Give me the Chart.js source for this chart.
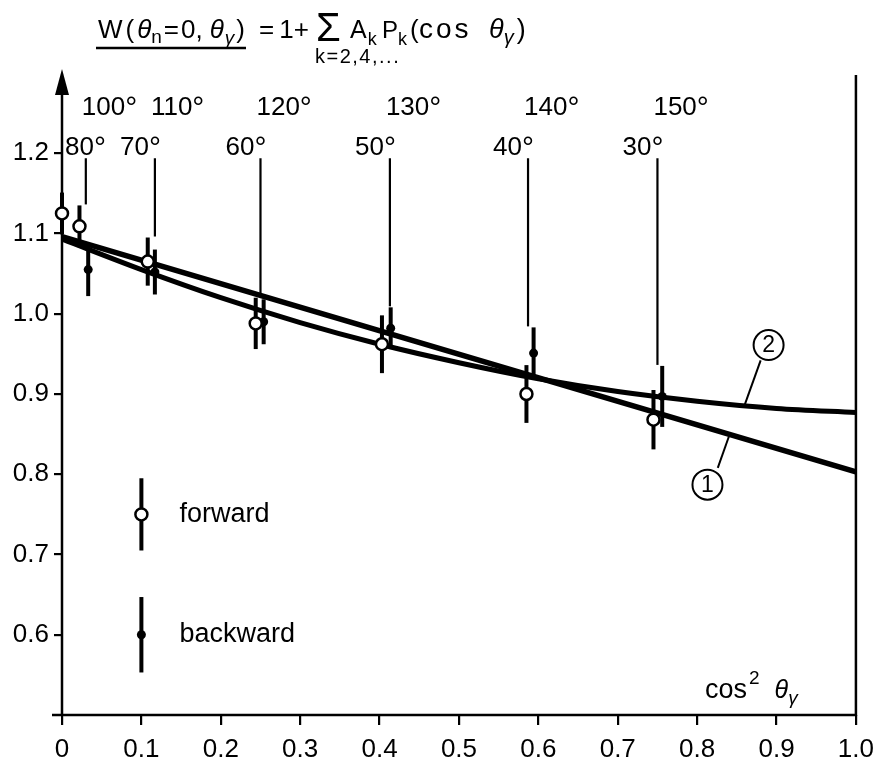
<!DOCTYPE html>
<html>
<head>
<meta charset="utf-8">
<script src="https://cdn.jsdelivr.net/npm/chart.js@4.4.1/dist/chart.umd.min.js"></script>
<style>
  html, body { margin: 0; padding: 0; background: #fff; }
  canvas { display: block; }
</style>
</head>
<body>
<canvas id="chart" width="883" height="764"></canvas>
<script>
// axis ticks
const xTicks = [0, 0.1, 0.2, 0.3, 0.4, 0.5, 0.6, 0.7, 0.8, 0.9, 1.0];
const xTickLabels = ["0", "0.1", "0.2", "0.3", "0.4", "0.5", "0.6", "0.7", "0.8", "0.9", "1.0"];
const yTicks = [0.6, 0.7, 0.8, 0.9, 1.0, 1.1, 1.2];
const yTickLabels = ["0.6", "0.7", "0.8", "0.9", "1.0", "1.1", "1.2"];

// forward detector (open circles)
const fwdX = [0, 0.022, 0.108, 0.244, 0.403, 0.585, 0.745];
const fwdY = [1.125, 1.109, 1.065, 0.988, 0.962, 0.900, 0.868];
const fwdErr = [0.026, 0.026, 0.030, 0.032, 0.036, 0.036, 0.037];

// backward detector (filled dots)
const bwdX = [0.033, 0.117, 0.254, 0.414, 0.594, 0.756];
const bwdY = [1.055, 1.052, 0.990, 0.982, 0.951, 0.897];
const bwdErr = [0.033, 0.028, 0.028, 0.026, 0.032, 0.038];

// angle markers (cos^2 of the detector angle)
const markerX = [0.030, 0.117, 0.250, 0.413, 0.587, 0.750];
const fwdAngles = ["80", "70", "60", "50", "40", "30"];
const bwdAngles = ["100", "110", "120", "130", "140", "150"];

// fitted curves
const curve1X = [0, 1.0];
const curve1Y = [1.096, 0.803];
const curve2X = [0, 0.1, 0.2, 0.3, 0.4, 0.5, 0.6, 0.7, 0.8, 0.9, 1.0];
const curve2Y = [1.093, 1.055, 1.020, 0.989, 0.962, 0.939, 0.919, 0.903, 0.891, 0.882, 0.877];

// legend samples
const legendLabels = ["forward", "backward"];
const legendX = 0.1;
const legendY = [0.75, 0.60];
const legendErr = [0.045, 0.047];

const FONT = '"Liberation Sans", Arial, sans-serif';
Chart.defaults.font.family = FONT;
Chart.defaults.color = '#000';

function pts(xs, ys) {
  return xs.map((v, i) => ({ x: v, y: ys[i] }));
}

function errBar(ctx, x, y, xv, yv, e) {
  const px = x.getPixelForValue(xv);
  ctx.beginPath();
  ctx.moveTo(px, y.getPixelForValue(yv - e));
  ctx.lineTo(px, y.getPixelForValue(yv + e));
  ctx.stroke();
}

function setFont(ctx, s, it) {
  ctx.font = (it ? 'italic ' : '') + s + 'px ' + FONT;
}

// draws text pieces one after another, returns the end x
function runs(ctx, x, base, parts) {
  parts.forEach(p => {
    setFont(ctx, p.s, p.it);
    ctx.fillText(p.t, x, base + (p.dy || 0));
    x += ctx.measureText(p.t).width + (p.g || 0);
  });
  return x;
}

function spaced(ctx, x, base, txt, s, g) {
  return runs(ctx, x, base, txt.split('').map(c => ({ t: c, s: s, g: g })));
}

const deco = {
  id: 'deco',
  beforeDatasetsDraw(chart) {
    const { ctx, chartArea: a, scales: { x, y } } = chart;
    ctx.save();
    ctx.strokeStyle = '#000';
    ctx.fillStyle = '#000';

    // axes with arrow on W
    ctx.lineWidth = 2.5;
    ctx.beginPath();
    ctx.moveTo(a.left - 10, a.bottom);
    ctx.lineTo(a.right + 1, a.bottom);
    ctx.moveTo(a.left, a.bottom + 1);
    ctx.lineTo(a.left, a.top + 15);
    ctx.moveTo(a.right, a.bottom + 1);
    ctx.lineTo(a.right, a.top + 2);
    ctx.stroke();
    ctx.beginPath();
    ctx.moveTo(a.left, a.top - 4);
    ctx.lineTo(a.left - 7, a.top + 22);
    ctx.lineTo(a.left + 7, a.top + 22);
    ctx.closePath();
    ctx.fill();

    // angle marker lines, down to the top of the error bars
    ctx.lineWidth = 2.2;
    markerX.forEach(mx => {
      let top = 0;
      fwdX.forEach((v, i) => { if (Math.abs(v - mx) < 0.02) top = Math.max(top, fwdY[i] + fwdErr[i]); });
      bwdX.forEach((v, i) => { if (Math.abs(v - mx) < 0.02) top = Math.max(top, bwdY[i] + bwdErr[i]); });
      const px = x.getPixelForValue(mx);
      ctx.beginPath();
      ctx.moveTo(px, y.getPixelForValue(1.2) + 5);
      ctx.lineTo(px, y.getPixelForValue(top) - 1);
      ctx.stroke();
    });

    // error bars
    ctx.lineWidth = 4;
    fwdX.forEach((v, i) => errBar(ctx, x, y, v, fwdY[i], fwdErr[i]));
    bwdX.forEach((v, i) => errBar(ctx, x, y, v, bwdY[i], bwdErr[i]));
    legendY.forEach((v, i) => errBar(ctx, x, y, legendX, v, legendErr[i]));
    ctx.restore();
  },
  afterDraw(chart) {
    const { ctx, chartArea: a, scales: { x, y } } = chart;
    ctx.save();
    ctx.fillStyle = '#000';
    ctx.strokeStyle = '#000';
    ctx.textBaseline = 'alphabetic';
    ctx.textAlign = 'left';

    // angle labels: number plus a large degree ring
    markerX.forEach((mx, i) => {
      const px = x.getPixelForValue(mx);
      setFont(ctx, 26);
      const wn = ctx.measureText(fwdAngles[i]).width;
      setFont(ctx, 30);
      const wd = ctx.measureText('°').width;
      const left = Math.max(px - wd / 2 - wn, a.left + 3);
      runs(ctx, left, a.top + 82, [{ t: fwdAngles[i], s: 26 }, { t: '°', s: 30, dy: 2 }]);
      runs(ctx, Math.max(px - 4, a.left + 17), a.top + 42, [{ t: bwdAngles[i], s: 26 }, { t: '°', s: 30, dy: 2 }]);
    });

    // legend markers and text
    legendY.forEach((v, i) => {
      const px = x.getPixelForValue(legendX), py = y.getPixelForValue(v);
      ctx.beginPath();
      if (i === 0) {
        ctx.arc(px, py, 6, 0, Math.PI * 2);
        ctx.fillStyle = '#fff';
        ctx.fill();
        ctx.lineWidth = 2.5;
        ctx.stroke();
      } else {
        ctx.arc(px, py, 4.5, 0, Math.PI * 2);
        ctx.fillStyle = '#000';
        ctx.fill();
      }
      ctx.fillStyle = '#000';
      setFont(ctx, 27);
      ctx.textBaseline = 'middle';
      ctx.fillText(legendLabels[i], px + 38, py);
    });
    ctx.textBaseline = 'alphabetic';

    // curve labels (1) and (2)
    ctx.lineWidth = 2;
    const tag = (n, cx, cy, x1, y1, x2, y2) => {
      const px = x.getPixelForValue(cx), py = y.getPixelForValue(cy);
      ctx.beginPath();
      ctx.arc(px, py, 15, 0, Math.PI * 2);
      ctx.stroke();
      ctx.beginPath();
      ctx.moveTo(x.getPixelForValue(x1), y.getPixelForValue(y1));
      ctx.lineTo(x.getPixelForValue(x2), y.getPixelForValue(y2));
      ctx.stroke();
      setFont(ctx, 23);
      ctx.textAlign = 'center';
      ctx.textBaseline = 'middle';
      ctx.fillText(n, px, py + 1);
      ctx.textAlign = 'left';
      ctx.textBaseline = 'alphabetic';
    };
    tag('1', 0.813, 0.787, 0.826, 0.808, 0.840, 0.847);
    tag('2', 0.890, 0.961, 0.880, 0.942, 0.859, 0.884);

    // x axis title
    let tx = runs(ctx, 705, 698, [{ t: 'cos', s: 27, g: 2 }, { t: '2', s: 19, dy: -14, g: 15 }]);
    runs(ctx, tx, 698, [{ t: 'θ', s: 25, it: true }, { t: 'γ', s: 19, it: true, dy: 6 }]);

    // formula on top
    const end = runs(ctx, 98, 38, [
      { t: 'W', s: 26, g: 3 }, { t: '(', s: 26, g: 3 }, { t: 'θ', s: 26, it: true },
      { t: 'n', s: 19, dy: 5, g: 2 }, { t: '=', s: 26, g: 2 }, { t: '0,', s: 26, g: 7 },
      { t: 'θ', s: 26, it: true, g: 1 }, { t: 'γ', s: 19, it: true, dy: 6, g: 2 }, { t: ')', s: 26 }
    ]);
    ctx.lineWidth = 2.5;
    ctx.beginPath();
    ctx.moveTo(96, 48);
    ctx.lineTo(end + 1, 48);
    ctx.stroke();
    runs(ctx, 259, 38, [{ t: '=', s: 26, g: 5 }, { t: '1+', s: 26 }]);
    runs(ctx, 316, 41, [{ t: 'Σ', s: 40 }]);
    runs(ctx, 350, 38, [{ t: 'A', s: 25, g: 1 }, { t: 'k', s: 18, dy: 7 }]);
    runs(ctx, 382, 38, [{ t: 'P', s: 24, g: 0 }, { t: 'k', s: 18, dy: 7 }]);
    runs(ctx, 410, 38, [{ t: '(', s: 26 }]);
    spaced(ctx, 419, 38, 'cos', 28, 3);
    runs(ctx, 489, 38, [{ t: 'θ', s: 27, it: true }, { t: 'γ', s: 20, it: true, dy: 6, g: 3 }, { t: ')', s: 27 }]);
    spaced(ctx, 315, 63, 'k=2,4,...', 20, 1.5);
    ctx.restore();
  }
};

new Chart(document.getElementById('chart'), {
  type: 'scatter',
  data: {
    datasets: [
      {
        label: 'forward',
        data: pts(fwdX, fwdY),
        pointRadius: 6,
        pointBackgroundColor: '#fff',
        pointBorderColor: '#000',
        pointBorderWidth: 2.5,
        clip: false,
        order: 0
      },
      {
        label: 'backward',
        data: pts(bwdX, bwdY),
        pointRadius: 4.5,
        pointBackgroundColor: '#000',
        pointBorderColor: '#000',
        pointBorderWidth: 0,
        clip: false,
        order: 1
      },
      {
        label: '2',
        data: pts(curve2X, curve2Y),
        showLine: true,
        pointRadius: 0,
        borderColor: '#000',
        borderWidth: 5,
        cubicInterpolationMode: 'monotone',
        order: 2
      },
      {
        label: '1',
        data: pts(curve1X, curve1Y),
        showLine: true,
        pointRadius: 0,
        borderColor: '#000',
        borderWidth: 5.5,
        order: 3
      }
    ]
  },
  options: {
    responsive: false,
    animation: false,
    events: [],
    layout: { padding: { top: 73, right: 18, left: 0, bottom: 0 } },
    plugins: { legend: { display: false }, tooltip: { enabled: false } },
    scales: {
      x: {
        type: 'linear',
        min: 0,
        max: 1,
        afterFit: s => { s.height = 49; },
        afterBuildTicks: s => { s.ticks = xTicks.map(v => ({ value: v })); },
        ticks: {
          font: { size: 26 },
          color: '#000',
          padding: 9,
          maxRotation: 0,
          callback: (v, i) => xTickLabels[i]
        },
        grid: { drawOnChartArea: false, drawTicks: true, tickLength: 10, color: '#000', lineWidth: 2.2 },
        border: { display: false }
      },
      y: {
        min: 0.5,
        max: 1.3,
        afterFit: s => { s.width = 62; },
        afterBuildTicks: s => { s.ticks = yTicks.map(v => ({ value: v })); },
        ticks: {
          font: { size: 26 },
          color: '#000',
          padding: 5,
          callback: (v, i) => yTickLabels[i]
        },
        grid: { drawOnChartArea: false, drawTicks: true, tickLength: 8, color: '#000', lineWidth: 2.2 },
        border: { display: false }
      }
    }
  },
  plugins: [deco]
});
</script>
</body>
</html>
